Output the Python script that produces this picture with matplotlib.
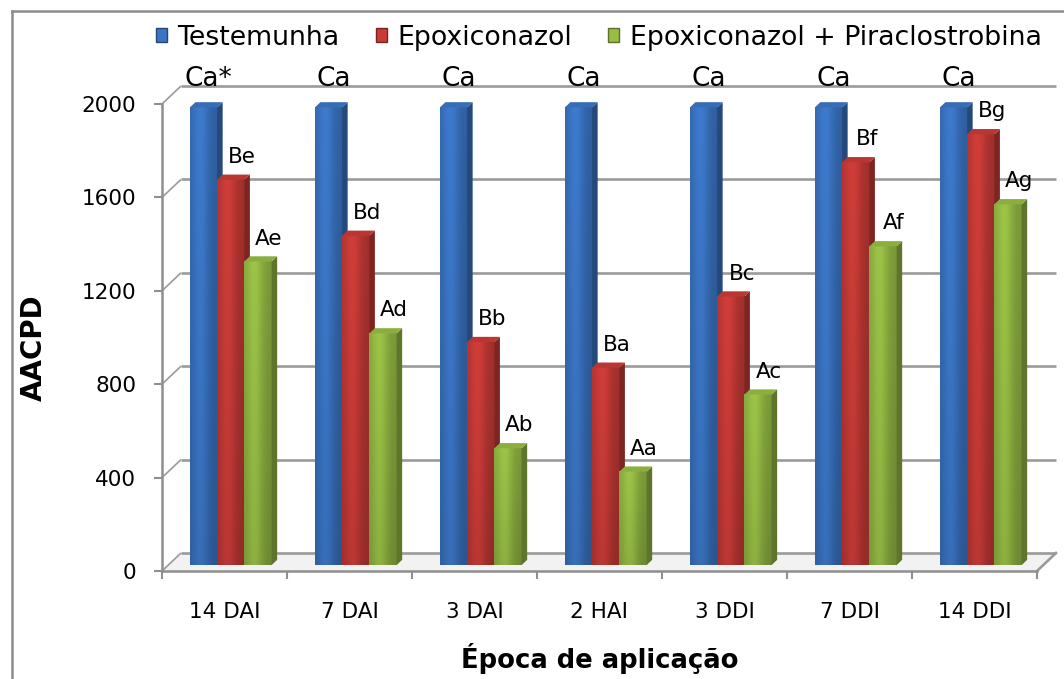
import numpy as np
import matplotlib
matplotlib.use("Agg")
import matplotlib.pyplot as plt
from matplotlib.patches import Polygon, Patch
from matplotlib.lines import Line2D
from matplotlib.colors import to_rgb

# ---- data ----
categories = ["14 DAI", "7 DAI", "3 DAI", "2 HAI", "3 DDI", "7 DDI", "14 DDI"]
series_names = ["Testemunha", "Epoxiconazol", "Epoxiconazol + Piraclostrobina"]
testemunha = [1960, 1960, 1960, 1960, 1960, 1960, 1960]
epoxiconazol = [1650, 1410, 955, 845, 1150, 1725, 1845]
epox_piraclostrobina = [1300, 992, 500, 400, 730, 1365, 1545]
labels_testemunha = ["Ca*", "Ca", "Ca", "Ca", "Ca", "Ca", "Ca"]
labels_epox = ["Be", "Bd", "Bb", "Ba", "Bc", "Bf", "Bg"]
labels_epox_pira = ["Ae", "Ad", "Ab", "Aa", "Ac", "Af", "Ag"]
y_ticks = [0, 400, 800, 1200, 1600, 2000]

series_values = [testemunha, epoxiconazol, epox_piraclostrobina]
series_labels = [labels_testemunha, labels_epox, labels_epox_pira]
base_colors = ["#3b76c6", "#c93b37", "#97bd45"]
label_sizes = [19, 15.5, 15.5]
label_shift = [(5, 28), (11, 23), (11, 23)]   # px offset of each label from the bar top

plt.rcParams["font.family"] = ["DejaVu Sans"]

W_PX, H_PX = 1064, 679
fig = plt.figure(figsize=(W_PX / 100, H_PX / 100), dpi=100)
ax_l, ax_b, ax_w, ax_h = 162, 108, 875, 467
ax = fig.add_axes([ax_l / W_PX, ax_b / H_PX, ax_w / W_PX, ax_h / H_PX])
ncat = len(categories)
ymax = 2000
ax.set_xlim(0, ncat)
ax.set_ylim(0, ymax)

# pixels per data unit, used for the pseudo-3D depth
sx = ax_w / ncat
sy = ax_h / ymax
DX, DY = 19.0, 18.0        # full depth of the plot box, in px
ZF, ZB = 0.33, 0.62        # bar front / back depth fractions


def proj(x, v, z):
    return x + z * DX / sx, v + z * DY / sy


GRID = "#9a9a9a"
AXC = "#8f8f8f"

# floor
floor = Polygon([proj(0, 0, 0), proj(ncat, 0, 0), proj(ncat, 0, 1), proj(0, 0, 1)],
                closed=True, facecolor="#f2f2f2", edgecolor="none", zorder=0.3,
                clip_on=False)
ax.add_patch(floor)

# side-wall diagonals and back-wall gridlines
for v in y_ticks:
    a = proj(0, v, 0)
    b = proj(0, v, 1)
    c = proj(ncat, v, 1)
    ax.plot([a[0], b[0]], [a[1], b[1]], color=GRID, lw=1.2, zorder=0.5,
            clip_on=False, solid_capstyle="butt")
    ax.plot([b[0], c[0]], [b[1], c[1]], color=GRID, lw=1.9, zorder=0.5,
            clip_on=False, solid_capstyle="butt")
r0 = proj(ncat, 0, 0)
r1 = proj(ncat, 0, 1)
ax.plot([r0[0], r1[0]], [r0[1], r1[1]], color=GRID, lw=1.9, zorder=0.5,
        clip_on=False)


def shade(rgb, f):
    return tuple(min(1.0, max(0.0, c * f)) for c in rgb)


def face_image(rgb, nx=24, ny=40):
    t = np.linspace(0, 1, nx)
    hprof = 0.86 + 0.2 * np.exp(-((t - 0.38) / 0.3) ** 2) - 0.06 * t
    u = np.linspace(0, 1, ny)
    vprof = 0.9 + 0.1 * u
    prof = vprof[:, None] * hprof[None, :]
    img = np.clip(np.array(rgb)[None, None, :] * prof[:, :, None], 0, 1)
    return img


bw = 0.218
for i in range(ncat):
    for k in range(3):
        v = series_values[k][i]
        rgb = to_rgb(base_colors[k])
        x0 = i + 0.5 - 1.5 * bw + k * bw
        x1 = x0 + bw
        zbase = 2 + i * 0.01 + k * 0.001
        fx0, fy0 = proj(x0, 0, ZF)
        fx1, fy1 = proj(x1, v, ZF)
        ax.imshow(face_image(rgb), extent=(fx0, fx1, fy0, fy1), origin="lower",
                  aspect="auto", interpolation="bilinear", zorder=zbase,
                  clip_on=False)
        side = Polygon([proj(x1, 0, ZF), proj(x1, v, ZF), proj(x1, v, ZB), proj(x1, 0, ZB)],
                       closed=True, facecolor=shade(rgb, 0.62), edgecolor="none",
                       zorder=zbase, clip_on=False)
        ax.add_patch(side)
        cap = Polygon([proj(x0, v, ZF), proj(x1, v, ZF), proj(x1, v, ZB), proj(x0, v, ZB)],
                      closed=True, facecolor=shade(rgb, 0.92), edgecolor="none",
                      zorder=zbase, clip_on=False)
        ax.add_patch(cap)
        lx, ly = proj((x0 + x1) / 2, v, ZF)
        ox, oy = label_shift[k]
        ax.annotate(series_labels[k][i], xy=(lx, ly),
                    xytext=(ox * 0.72, oy * 0.72),
                    textcoords="offset points", ha="center", va="center",
                    fontsize=label_sizes[k], color="black", zorder=10,
                    annotation_clip=False)

ax.set_aspect("auto")
ax.set_xlim(0, ncat)
ax.set_ylim(0, ymax)

# axes styling
for s in ["top", "right"]:
    ax.spines[s].set_visible(False)
for s in ["left", "bottom"]:
    ax.spines[s].set_color(AXC)
    ax.spines[s].set_linewidth(1.8)
ax.set_facecolor("none")

ax.set_yticks(y_ticks)
ax.set_yticklabels([str(t) for t in y_ticks])
ax.tick_params(axis="y", direction="out", length=5.5, width=1.5, color=AXC,
               pad=13, labelsize=15.5)
ax.set_xticks(np.arange(ncat + 1))
ax.set_xticklabels([])
ax.set_xticks(np.arange(ncat) + 0.5, minor=True)
ax.set_xticklabels(categories, minor=True)
ax.tick_params(axis="x", which="major", direction="out", length=6, width=1.5,
               color=AXC)
ax.tick_params(axis="x", which="minor", length=0, pad=22, labelsize=15.5)

ax.set_ylabel("AACPD", fontsize=20, fontweight="bold")
ax.yaxis.set_label_coords((34 - ax_l) / ax_w, 0.478)
ax.yaxis.label.set_va("center")
ax.set_xlabel("Época de aplicação", fontsize=18.6, fontweight="bold")
ax.xaxis.set_label_coords(0.5006, -(658 - (H_PX - ax_b)) / ax_h)
ax.xaxis.label.set_va("center")

# legend
handles = [Patch(facecolor=base_colors[k], edgecolor=shade(to_rgb(base_colors[k]), 0.6),
                 linewidth=1.0) for k in range(3)]
fig.legend(handles, series_names, loc="center left",
           bbox_to_anchor=(156 / W_PX, 1 - 38 / H_PX), ncol=3, frameon=False,
           fontsize=19.3, handlelength=0.42, handleheight=0.42, handletextpad=0.38,
           columnspacing=1.35, borderpad=0, borderaxespad=0)

# outer chart frame
fig.add_artist(Line2D([12 / W_PX, 1.0], [1 - 11 / H_PX, 1 - 11 / H_PX],
                      color="#8c8c8c", lw=1.8, transform=fig.transFigure))
fig.add_artist(Line2D([12 / W_PX, 12 / W_PX], [0.0, 1 - 11 / H_PX],
                      color="#8c8c8c", lw=1.8, transform=fig.transFigure))

fig.savefig("out.png", dpi=100, facecolor="white")
